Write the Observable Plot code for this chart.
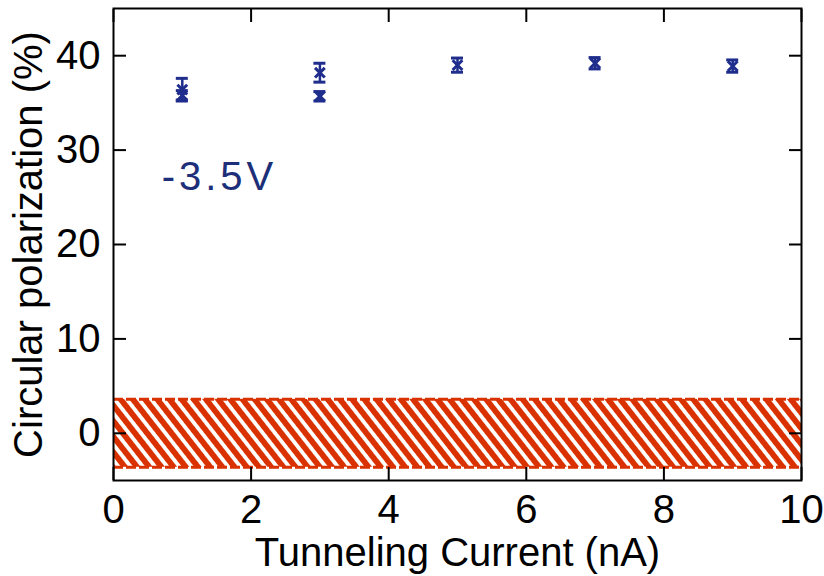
<!DOCTYPE html>
<html><head><meta charset="utf-8">
<script src="https://cdn.jsdelivr.net/npm/d3@7"></script>
<script src="https://cdn.jsdelivr.net/npm/@observablehq/plot@0.6"></script>
<style>
body{margin:0;background:#fff}
svg{font-family:"Liberation Sans",Arial,sans-serif}
</style>
</head><body><div id="chart"></div>
<script>
// Data
const current = [1, 1, 3, 3, 5, 7, 9];            // Tunneling current (nA)
const polarization = [36.4, 35.8, 38.2, 35.7, 39.0, 39.2, 38.9]; // %
const errors = [1.2, 0.5, 1.0, 0.5, 0.75, 0.6, 0.65];
const xTicks = [0, 2, 4, 6, 8, 10];
const yTicks = [0, 10, 20, 30, 40];
const bandLow = [-3.6];
const bandHigh = [3.6];
const annotationText = ["-3.5V"];
const annotationX = [0.7];
const annotationY = [25.8];

const points = current.map((x, i) => ({x, y: polarization[i], e: errors[i]}));
const band = bandLow.map((lo, i) => ({y1: lo, y2: bandHigh[i]}));
const notes = annotationText.map((t, i) => ({t, x: annotationX[i], y: annotationY[i]}));

const blue = "#1f2d8c";
const red = "#d93200";
const fs = 40;

const chart = Plot.plot({
  width: 824,
  height: 576,
  marginLeft: 113,
  marginRight: 23,
  marginTop: 8,
  marginBottom: 96,
  style: {fontFamily: "Liberation Sans, Arial, sans-serif", background: "white", color: "black"},
  x: {domain: [0, 10]},
  y: {domain: [-5, 45]},
  marks: [
    Plot.rect(band, {y1: "y1", y2: "y2", fill: "url(#hatch)"}),
    Plot.ruleY(band.flatMap(d => [d.y1, d.y2]), {stroke: red, strokeWidth: 3, strokeDasharray: "10,3"}),
    Plot.ruleX(points, {x: "x", y1: d => d.y - d.e, y2: d => d.y + d.e, stroke: blue, strokeWidth: 2.5}),
    Plot.ruleY(points, {x1: "x", x2: "x", y: d => d.y - d.e, insetLeft: -6, insetRight: -6, stroke: blue, strokeWidth: 3}),
    Plot.ruleY(points, {x1: "x", x2: "x", y: d => d.y + d.e, insetLeft: -6, insetRight: -6, stroke: blue, strokeWidth: 3}),
    Plot.dot(points, {x: "x", y: "y", symbol: "times", r: 4.5, stroke: blue, strokeWidth: 3}),
    Plot.text(notes, {x: "x", y: "y", text: "t", textAnchor: "start", lineAnchor: "bottom", fontSize: fs, fill: "#1c2f78"}),
    Plot.frame({stroke: "black", strokeWidth: 2}),
    Plot.axisX({anchor: "bottom", ticks: xTicks, tickSize: -13, tickPadding: 27, fontSize: fs, label: "Tunneling Current (nA)", labelAnchor: "center", labelOffset: 85, labelArrow: "none", strokeWidth: 2}),
    Plot.axisX({anchor: "top", ticks: xTicks, tickSize: -13, tickFormat: () => "", label: null, strokeWidth: 2}),
    Plot.axisY({anchor: "left", ticks: yTicks, tickSize: -13, tickPadding: 26, fontSize: fs, label: "Circular polarization (%)", labelAnchor: "center", labelOffset: 100, labelArrow: "none", strokeWidth: 2}),
    Plot.axisY({anchor: "right", ticks: yTicks, tickSize: -13, tickFormat: () => "", label: null, strokeWidth: 2})
  ]
});

const svg = d3.select(chart);
const defs = svg.insert("defs", ":first-child");
const pat = defs.append("pattern")
  .attr("id", "hatch")
  .attr("patternUnits", "userSpaceOnUse")
  .attr("width", 9.6)
  .attr("height", 20)
  .attr("patternTransform", "rotate(-38)");
pat.append("rect").attr("width", 9.6).attr("height", 20).attr("fill", "white");
pat.append("rect").attr("width", 5.8).attr("height", 20).attr("fill", red);
svg.selectAll("text").filter(function(){ return this.textContent === "-3.5V"; }).style("letter-spacing", "4px");

document.getElementById("chart").appendChild(chart);
</script>
</body></html>
